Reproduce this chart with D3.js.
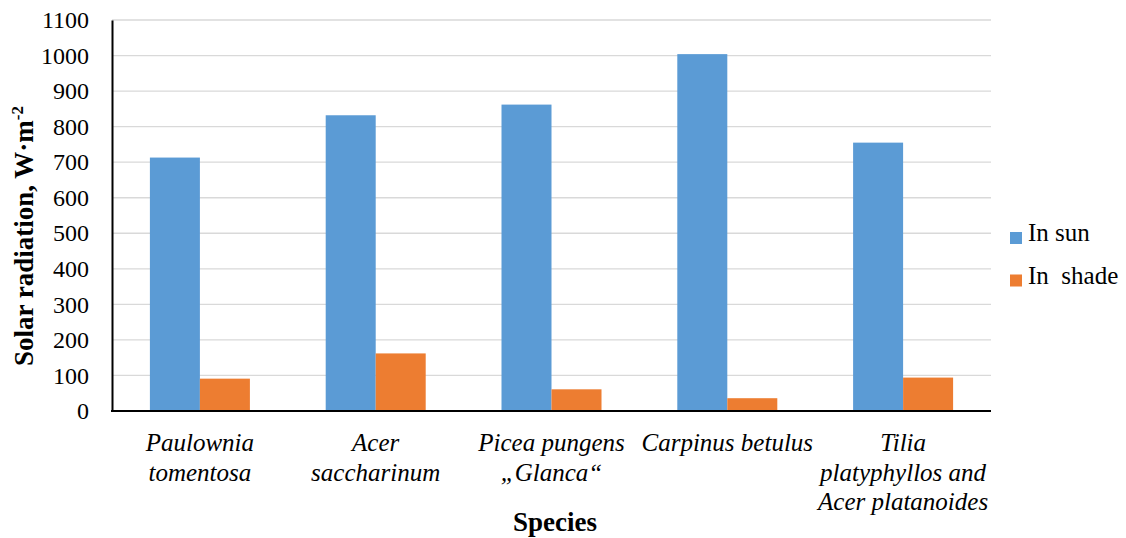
<!DOCTYPE html>
<html><head><meta charset="utf-8">
<script src="https://cdn.jsdelivr.net/npm/d3@7/dist/d3.min.js"></script>
<style>body{margin:0;background:#fff}svg{display:block}</style>
</head><body><svg id="c" width="1126" height="538"></svg>
<script>
const categories = [["Paulownia","tomentosa"],["Acer","saccharinum"],["Picea pungens","\u201EGlanca\u201C"],["Carpinus betulus"],["Tilia","platyphyllos and","Acer platanoides"]];
const seriesNames = ["In sun","In\u00A0 shade"];
const sunValues = [713, 832, 862, 1004, 755];
const shadeValues = [91, 162, 61, 36, 94];
const yTicks = [0,100,200,300,400,500,600,700,800,900,1000,1100];
const colors = ["#5B9BD5","#ED7D31"];
const FONT = "'Liberation Serif', 'Times New Roman', serif";

const svg = d3.select("#c");
const L=112, R=991, T=20, B=411;
const x = d3.scaleBand().domain(d3.range(categories.length)).range([L,R]);
const y = d3.scaleLinear().domain([0,1100]).range([B,T]);
const barW = 50;
const serif = sel => sel.style("font-family", FONT, "important");

// grid
svg.append("g").selectAll("line").data(yTicks.filter(d=>d>0)).join("line")
  .attr("x1",L).attr("x2",R).attr("y1",d=>y(d)).attr("y2",d=>y(d))
  .attr("stroke","#d9d9d9").attr("stroke-width",1.3);

const data = categories.map((c,i)=>[sunValues[i],shadeValues[i]]);
const g = svg.append("g");
data.forEach((vals,i)=>{
  vals.forEach((v,j)=>{
    const cx = x(i)+x.bandwidth()/2;
    g.append("rect").attr("x",cx-barW+j*barW).attr("width",barW)
      .attr("y",y(v)).attr("height",y(0)-y(v)).attr("fill",colors[j]);
  });
});

// axes
const ya = svg.append("g").attr("transform",`translate(${L},0)`)
  .call(d3.axisLeft(y).tickValues(yTicks).tickFormat(d3.format("d")).tickSize(0).tickPadding(23));
ya.attr("font-family",FONT).attr("font-size",24);
ya.select(".domain").attr("stroke","#000").attr("stroke-width",2);
ya.selectAll("text").attr("fill","#000").call(serif).style("font-size","24px");
svg.append("line").attr("x1",L-1).attr("x2",R).attr("y1",B).attr("y2",B).attr("stroke","#000").attr("stroke-width",2);

// x labels
categories.forEach((lines,i)=>{
  const cx = x(i)+x.bandwidth()/2;
  const t = svg.append("text").attr("text-anchor","middle").attr("font-family",FONT)
    .call(serif).style("font-size","25px").style("font-style","italic").attr("fill","#000");
  lines.forEach((s,k)=>t.append("tspan").attr("x",cx).attr("y",451+k*29.5).call(serif).text(s));
});
svg.append("text").attr("x",555).attr("y",531).attr("text-anchor","middle").attr("font-family",FONT)
  .call(serif).style("font-size","27px").style("font-weight","bold").attr("fill","#000").text("Species");

// y title
const yt = svg.append("text").attr("transform","translate(33,236) rotate(-90)").attr("font-family",FONT)
  .attr("text-anchor","middle").call(serif).style("font-size","27px").style("font-weight","bold").attr("fill","#000");
yt.append("tspan").call(serif).text("Solar radiation, W\u00B7m");
yt.append("tspan").attr("dy",-10).call(serif).style("font-size","17px").text("-2");

// legend
seriesNames.forEach((n,i)=>{
  const base = 241 + i*42.5;
  svg.append("rect").attr("x",1010).attr("y",base-9).attr("width",12).attr("height",12).attr("fill",colors[i]);
  svg.append("text").attr("x",1028).attr("y",base).attr("font-family",FONT).call(serif).style("font-size","25px").attr("fill","#000").text(n);
});
</script></body></html>
